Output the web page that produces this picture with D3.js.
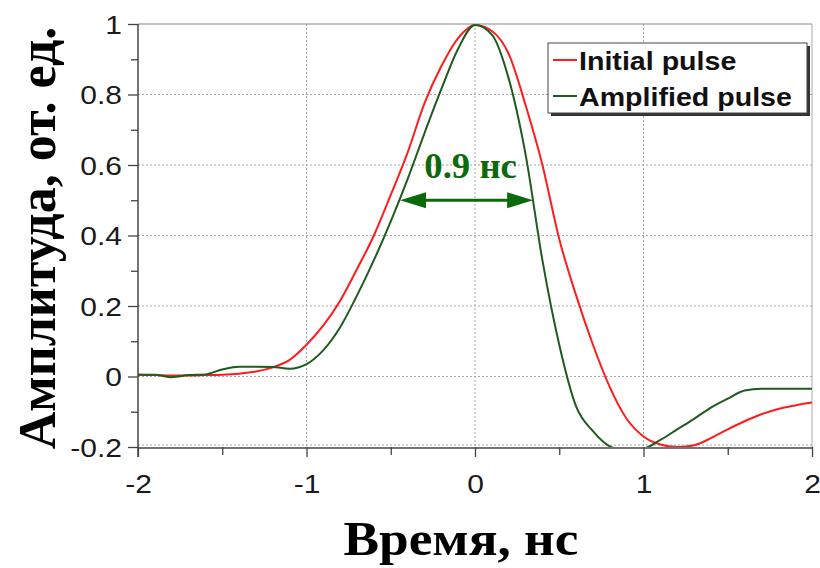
<!DOCTYPE html>
<html>
<head>
<meta charset="utf-8">
<script src="https://cdnjs.cloudflare.com/ajax/libs/d3/7.8.5/d3.min.js"></script>
<style>
	body { margin: 0; background: #fff; }
	svg { display: block; }
	.tick text { font-family: "Liberation Sans", Arial, sans-serif; font-size: 25px; fill: #1a1a1a; }
</style>
</head>
<body>
<svg id="chart" width="820" height="568"></svg>
<script>
// time axis, ns
var timeNs = [-2.0, -1.9, -1.8, -1.7, -1.6, -1.5, -1.4, -1.3, -1.2, -1.1,
	-1.0, -0.9, -0.8, -0.7, -0.6, -0.5, -0.4, -0.3, -0.2, -0.1,
	0.0, 0.1, 0.2, 0.3, 0.4, 0.5, 0.6, 0.7, 0.8, 0.9,
	1.0, 1.1, 1.2, 1.3, 1.4, 1.5, 1.6, 1.7, 1.8, 1.9, 2.0];

var initialPulse = [0.005, 0.004, 0.003, 0.003, 0.004, 0.005, 0.008, 0.014, 0.026, 0.047,
	0.09, 0.145, 0.215, 0.305, 0.40, 0.515, 0.635, 0.775, 0.88, 0.96,
	0.997, 0.98, 0.915, 0.77, 0.60, 0.39, 0.23, 0.09, -0.03, -0.12,
	-0.17, -0.193, -0.2, -0.195, -0.175, -0.15, -0.127, -0.107, -0.092, -0.082, -0.074];

var amplifiedPulse = [0.005, 0.005, -0.002, 0.004, 0.006, 0.02, 0.028, 0.028, 0.027, 0.022,
	0.035, 0.075, 0.14, 0.23, 0.33, 0.44, 0.56, 0.69, 0.815, 0.93,
	0.997, 0.97, 0.845, 0.63, 0.33, 0.09, -0.085, -0.155, -0.198, -0.21,
	-0.205, -0.18, -0.15, -0.12, -0.088, -0.063, -0.04, -0.035, -0.035, -0.035, -0.035];

var seriesNames = ["Initial pulse", "Amplified pulse"],
	seriesColors = ["#ff1c1c", "#1f5a1f"];

var xTicks = [-2, -1, 0, 1, 2],
	xMinorTicks = [-1.5, -0.5, 0.5, 1.5],
	yTicks = [-0.2, 0, 0.2, 0.4, 0.6, 0.8, 1],
	yMinorTicks = [-0.1, 0.1, 0.3, 0.5, 0.7, 0.9];

// FWHM annotation
var fwhmLabel = "0.9 нс",
	fwhmFrom = -0.445,
	fwhmTo = 0.345,
	fwhmLevel = 0.5;

var xTitle = "Время, нс",
	yTitle = "Амплитуда, от. ед.";

var svg = d3.select("#chart"),
	x = d3.scaleLinear().domain([-2, 2]).range([138, 812]),
	y = d3.scaleLinear().domain([-0.2, 1]).range([447, 24]),
	annColor = "#0b6b0b",
	fmt = d => String(+d.toFixed(1));

// the source picture is a bit wider than tall, so text is stretched sideways
function stretch(sel, f) {
	sel.each(function () {
		var w = this.getComputedTextLength();
		d3.select(this).attr("textLength", w * f).attr("lengthAdjust", "spacingAndGlyphs");
	});
}

svg.append("clipPath").attr("id", "clip")
	.append("rect")
	.attr("x", x(-2)).attr("y", y(1) - 2)
	.attr("width", x(2) - x(-2)).attr("height", y(-0.2) - y(1) + 2);

// grid
svg.append("g").selectAll("line")
	.data(xTicks.slice(1, -1))
	.enter().append("line")
	.attr("x1", d => x(d)).attr("x2", d => x(d))
	.attr("y1", y(1)).attr("y2", y(-0.2))
	.attr("stroke", "#a8a8a8").attr("stroke-dasharray", "2,2");

svg.append("g").selectAll("line")
	.data(yTicks.slice(0, -1))
	.enter().append("line")
	.attr("x1", x(-2)).attr("x2", x(2))
	.attr("y1", d => y(d) - (d == -0.2 ? 2 : 0)).attr("y2", d => y(d) - (d == -0.2 ? 2 : 0))
	.attr("stroke", "#a8a8a8").attr("stroke-dasharray", "2,2");

// frame top / right
svg.append("line").attr("x1", x(-2)).attr("x2", x(2)).attr("y1", y(1)).attr("y2", y(1)).attr("stroke", "#888");
svg.append("line").attr("x1", x(2)).attr("x2", x(2)).attr("y1", y(1)).attr("y2", y(-0.2)).attr("stroke", "#aaa");

// curves
var line = d3.line()
	.x((d, i) => x(timeNs[i]))
	.y(d => y(d))
	.curve(d3.curveMonotoneX);

[initialPulse, amplifiedPulse].forEach(function (s, k) {
	svg.append("path")
		.attr("clip-path", "url(#clip)")
		.attr("d", line(s))
		.attr("fill", "none")
		.attr("stroke", seriesColors[k])
		.attr("stroke-width", 2);
});

// axes
var gx = svg.append("g").attr("transform", "translate(0," + y(-0.2) + ")");
gx.call(d3.axisBottom(x).tickValues(xTicks).tickFormat(fmt).tickSize(10).tickPadding(18));
gx.append("g").call(d3.axisBottom(x).tickValues(xMinorTicks).tickFormat("").tickSize(8));

var gy = svg.append("g").attr("transform", "translate(" + x(-2) + ",0)");
gy.call(d3.axisLeft(y).tickValues(yTicks).tickFormat(fmt).tickSize(10).tickPadding(6));
gy.append("g").call(d3.axisLeft(y).tickValues(yMinorTicks).tickFormat("").tickSize(7));

svg.selectAll(".domain").remove();
svg.selectAll(".tick line").attr("stroke", "#444").attr("stroke-width", 1.3);
gy.selectAll(".tick text").attr("dy", "0.36em");
stretch(svg.selectAll(".tick text"), 1.2);

svg.append("line").attr("x1", x(-2)).attr("x2", x(-2)).attr("y1", y(1)).attr("y2", y(-0.2) + 10)
	.attr("stroke", "#444").attr("stroke-width", 1.5);
svg.append("line").attr("x1", x(-2)).attr("x2", x(2)).attr("y1", y(-0.2) + 1).attr("y2", y(-0.2) + 1)
	.attr("stroke", "#444").attr("stroke-width", 1.5);

// legend
var lg = svg.append("g").attr("transform", "translate(548,43)");
lg.append("rect").attr("x", 3).attr("y", 3).attr("width", 259).attr("height", 70).attr("fill", "#333");
lg.append("rect").attr("width", 259).attr("height", 70).attr("fill", "#fff").attr("stroke", "#444");
seriesNames.forEach(function (name, k) {
	var yy = 17 + k * 36;
	lg.append("line").attr("x1", 5).attr("x2", 29).attr("y1", yy).attr("y2", yy)
		.attr("stroke", seriesColors[k]).attr("stroke-width", 2);
	lg.append("text").attr("x", 31).attr("y", yy + 10)
		.attr("font-family", "Liberation Sans, Arial, sans-serif")
		.attr("font-weight", "bold").attr("font-size", 26)
		.attr("fill", "#111")
		.text(name)
		.call(stretch, 1.1);
});

// FWHM arrow
var ay = y(fwhmLevel), ax0 = x(fwhmFrom), ax1 = x(fwhmTo);
svg.append("line").attr("x1", ax0 + 20).attr("x2", ax1 - 20).attr("y1", ay).attr("y2", ay)
	.attr("stroke", annColor).attr("stroke-width", 3);
svg.append("path")
	.attr("d", "M" + ax0 + "," + ay + "L" + (ax0 + 26) + "," + (ay - 8) + "L" + (ax0 + 26) + "," + (ay + 8) + "Z")
	.attr("fill", annColor);
svg.append("path")
	.attr("d", "M" + ax1 + "," + ay + "L" + (ax1 - 26) + "," + (ay - 8) + "L" + (ax1 - 26) + "," + (ay + 8) + "Z")
	.attr("fill", annColor);
svg.append("text")
	.attr("x", (ax0 + ax1) / 2 + 4).attr("y", ay - 22)
	.attr("text-anchor", "middle")
	.attr("font-family", "Liberation Serif, Times New Roman, serif")
	.attr("font-weight", "bold").attr("font-size", 35)
	.attr("fill", annColor)
	.text(fwhmLabel)
	.call(stretch, 1.05);

// titles
svg.append("text")
	.attr("x", 461).attr("y", 555)
	.attr("text-anchor", "middle")
	.attr("font-family", "Liberation Serif, Times New Roman, serif")
	.attr("font-weight", "bold").attr("font-size", 48)
	.attr("fill", "#000")
	.text(xTitle)
	.call(stretch, 1.11);

svg.append("text")
	.attr("transform", "translate(55,238) rotate(-90)")
	.attr("text-anchor", "middle")
	.attr("font-family", "Liberation Serif, Times New Roman, serif")
	.attr("font-weight", "bold").attr("font-size", 52)
	.attr("fill", "#000")
	.text(yTitle);
</script>
</body>
</html>
